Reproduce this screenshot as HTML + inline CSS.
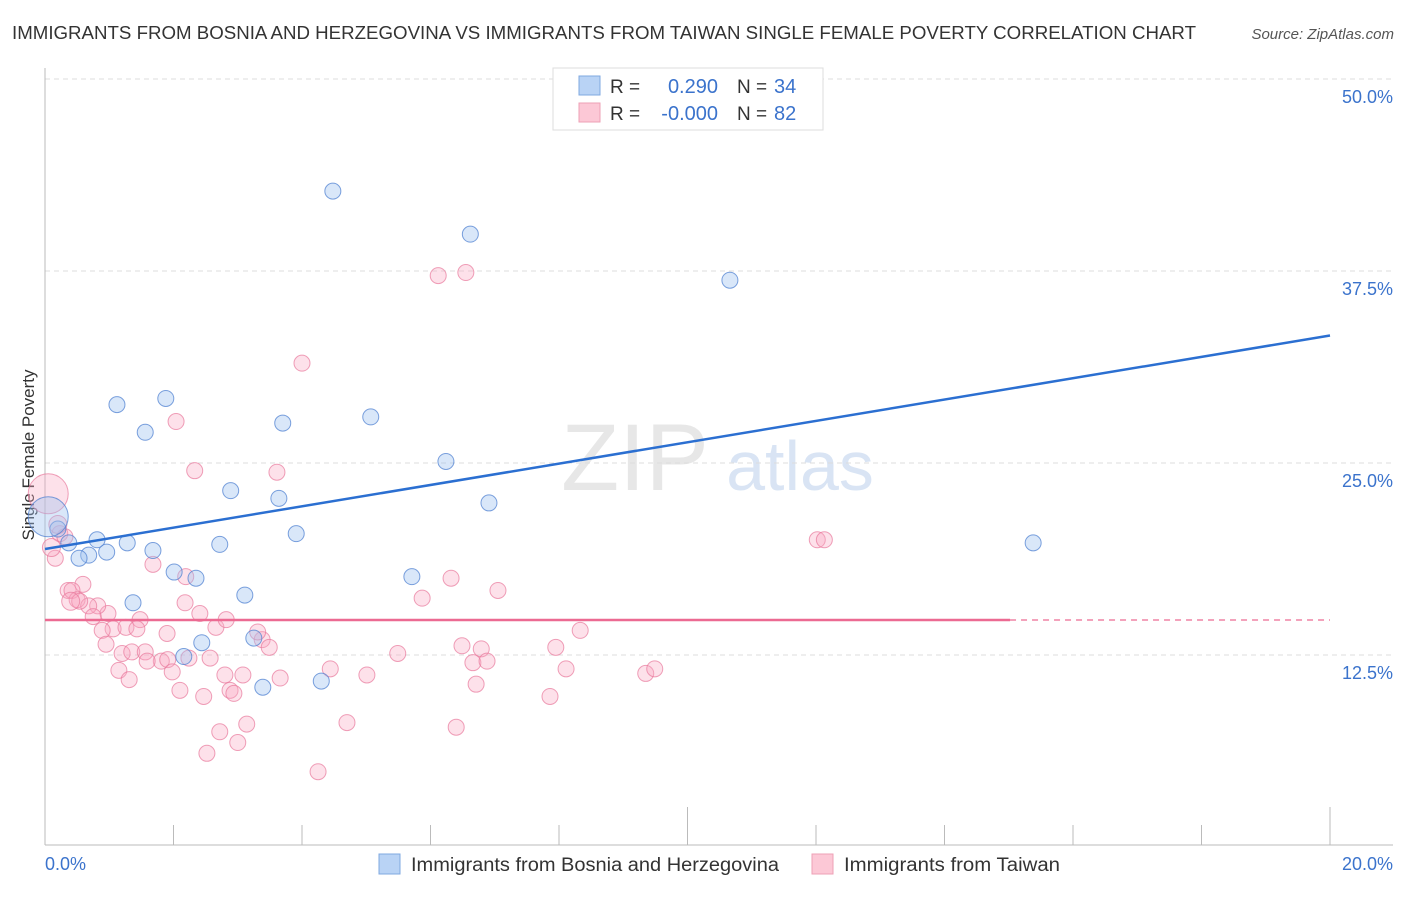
<!DOCTYPE html>
<html><head><meta charset="utf-8"><style>
body{margin:0;background:#fff;font-family:"Liberation Sans",sans-serif;}
svg text{font-family:"Liberation Sans",sans-serif;}
</style></head><body>
<svg id="chart" width="1406" height="892" xmlns="http://www.w3.org/2000/svg">
<text x="12" y="39" font-size="18" fill="#333" textLength="1184" lengthAdjust="spacingAndGlyphs">IMMIGRANTS FROM BOSNIA AND HERZEGOVINA VS IMMIGRANTS FROM TAIWAN SINGLE FEMALE POVERTY CORRELATION CHART</text>
<text x="1394" y="39" font-size="15" fill="#555" text-anchor="end" font-style="italic">Source: ZipAtlas.com</text>
<text transform="translate(34,455) rotate(-90)" font-size="17" fill="#333" text-anchor="middle">Single Female Poverty</text>
<g><text x="635" y="490" font-size="95" fill="#ddd" font-family="Liberation Serif" text-anchor="middle" opacity="0.7">ZIP</text><text x="800" y="490" font-size="70" fill="#c9daf0" text-anchor="middle" opacity="0.7">atlas</text></g>
<g id="grid"></g><g id="axes"></g><g id="marks"></g>
<g>
<rect x="553" y="68" width="270" height="62" fill="#fff" stroke="#ddd"/>
<rect x="579" y="76" width="21" height="19" fill="#b9d3f5" stroke="#7fa8e0"/>
<rect x="579" y="103" width="21" height="19" fill="#fcc8d6" stroke="#eea0b6"/>
<text x="610" y="93" font-size="19" fill="#333">R =</text><text x="718" y="93" font-size="20" fill="#3b73cc" text-anchor="end">0.290</text>
<text x="737" y="93" font-size="19" fill="#333">N =</text><text x="774" y="93" font-size="20" fill="#3b73cc">34</text>
<text x="610" y="120" font-size="19" fill="#333">R =</text><text x="718" y="120" font-size="20" fill="#3b73cc" text-anchor="end">-0.000</text>
<text x="737" y="120" font-size="19" fill="#333">N =</text><text x="774" y="120" font-size="20" fill="#3b73cc">82</text>
</g>
<g>
<rect x="379" y="854" width="21" height="20" fill="#b9d3f5" stroke="#7fa8e0"/>
<text x="411" y="871" font-size="19" fill="#333" textLength="368" lengthAdjust="spacingAndGlyphs">Immigrants from Bosnia and Herzegovina</text>
<rect x="812" y="854" width="21" height="20" fill="#fcc8d6" stroke="#eea0b6"/>
<text x="844" y="871" font-size="19" fill="#333" textLength="216" lengthAdjust="spacingAndGlyphs">Immigrants from Taiwan</text>
</g>
</svg>
<script>
const yTicks=[12.5,25,37.5,50];
const yTickLabels=["12.5%","25.0%","37.5%","50.0%"];
const xTickLabels=["0.0%","20.0%"];
const bosniaX=[4.48,6.62,10.66,1.12,1.88,1.56,5.07,3.70,6.24,2.89,3.64,6.91,3.91,0.20,0.37,0.81,1.28,0.68,0.96,0.53,1.68,2.72,2.01,2.35,5.71,3.11,1.37,2.44,3.25,2.16,3.39,4.30,15.38,0.05];
const bosniaY=[42.7,39.9,36.9,28.8,29.2,27.0,28.0,27.6,25.1,23.2,22.7,22.4,20.4,20.7,19.8,20.0,19.8,19.0,19.2,18.8,19.3,19.7,17.9,17.5,17.6,16.4,15.9,13.3,13.6,12.4,10.4,10.8,19.8,21.5];
const bosniaR=[8,8,8,8,8,8,8,8,8,8,8,8,8,8,8,8,8,8,8,8,8,8,8,8,8,8,8,8,8,8,8,8,8,20];
const taiwanX=[6.12,6.55,4.00,2.04,2.33,3.61,0.05,0.23,0.16,0.31,12.02,12.13,1.68,6.32,0.36,0.59,0.42,0.50,0.98,0.82,0.68,0.54,0.75,1.48,1.06,1.26,0.89,1.43,1.90,2.19,2.18,2.41,2.66,2.82,3.38,3.31,3.49,7.05,5.87,8.33,6.49,6.79,7.95,0.95,1.20,1.35,1.56,1.81,1.59,1.91,2.24,2.57,1.98,1.15,1.31,2.80,3.08,3.66,4.44,5.01,5.49,6.66,6.88,8.11,9.35,9.49,2.10,2.47,2.88,2.94,6.71,7.86,2.72,3.14,3.00,2.52,4.70,6.40,4.25,0.20,0.10,0.40];
const taiwanY=[37.2,37.4,31.5,27.7,24.5,24.4,23.0,20.4,18.8,20.2,20.0,20.0,18.4,17.5,16.7,17.1,16.7,16.1,15.2,15.7,15.7,16.0,15.0,14.8,14.2,14.3,14.1,14.2,13.9,17.6,15.9,15.2,14.3,14.8,13.5,14.0,13.0,16.7,16.2,14.1,13.1,12.9,13.0,13.2,12.6,12.7,12.7,12.1,12.1,12.2,12.3,12.3,11.4,11.5,10.9,11.2,11.2,11.0,11.6,11.2,12.6,12.0,12.1,11.6,11.3,11.6,10.2,9.8,10.2,10.0,10.6,9.8,7.5,8.0,6.8,6.1,8.1,7.8,4.9,21.0,19.5,16.0];
const taiwanR=taiwanX.map((_,i)=>i==6?20:(i>=79?9:8));
const bosniaTrend=[19.4,33.3];
const taiwanTrend=[14.78,14.78];
const NS="http://www.w3.org/2000/svg";
const X0=45,X1=1330,Y0=847,YP=192/12.5;
const xs=v=>X0+(v/20)*(X1-X0);
const ys=v=>Y0-v*YP;
function mk(tag,attrs,parent){const e=document.createElementNS(NS,tag);for(const k in attrs)e.setAttribute(k,attrs[k]);document.getElementById(parent).appendChild(e);return e;}
yTicks.forEach((t,i)=>{
 let g=mk('line',{x1:45,x2:1393,y1:ys(t),y2:ys(t),stroke:'#ddd','stroke-dasharray':'5,4'},'grid');
 
 
 let l=mk('text',{x:1393,y:ys(t)+24,'font-size':18,fill:'#3b73cc','text-anchor':'end'},'axes');
 
 
 l.textContent=yTickLabels[i];
});
let ax=mk('line',{x1:45,x2:45,y1:68,y2:845,stroke:'#bbb'},'axes');


let bx=mk('line',{x1:45,x2:1393,y1:845,y2:845,stroke:'#bbb'},'axes');


for(let i=0;i<=10;i++){
 let t=mk('line',{x1:xs(i*2),x2:xs(i*2),y1:(i==5||i==10)?807:825,y2:845,stroke:'#bbb'},'axes');
 
 
}
[[0,'start'],[20,'end']].forEach((p,i)=>{
 let l=mk('text',{x:i?1393:45,y:870,'font-size':18,fill:'#3b73cc','text-anchor':p[1]},'axes');
 
 
 l.textContent=xTickLabels[i];
});
taiwanX.forEach((x,i)=>{
 let c=mk('circle',{cx:xs(x),cy:ys(taiwanY[i]),r:taiwanR[i],fill:'rgba(248,170,195,0.35)',stroke:'rgba(232,120,155,0.7)','stroke-width':1},'marks');
 
 
});
bosniaX.forEach((x,i)=>{
 let c=mk('circle',{cx:xs(x),cy:ys(bosniaY[i]),r:bosniaR[i],fill:'rgba(160,195,240,0.4)',stroke:'rgba(80,130,210,0.75)','stroke-width':1},'marks');
 
 
});
let bl=mk('line',{x1:xs(0),y1:ys(bosniaTrend[0]),x2:xs(20),y2:ys(bosniaTrend[1]),stroke:'#2b6fd1','stroke-width':2.5},'marks');


const split=15.02;
let tl=mk('line',{x1:xs(0),y1:ys(taiwanTrend[0]),x2:xs(split),y2:ys(taiwanTrend[0]+(taiwanTrend[1]-taiwanTrend[0])*split/20),stroke:'#ec6a92','stroke-width':2.5},'marks');


let td=mk('line',{x1:xs(split),y1:ys(taiwanTrend[0]+(taiwanTrend[1]-taiwanTrend[0])*split/20),x2:xs(20),y2:ys(taiwanTrend[1]),stroke:'#ec6a92','stroke-width':1.2,'stroke-dasharray':'6,5'},'marks');


</script>
</body></html>
